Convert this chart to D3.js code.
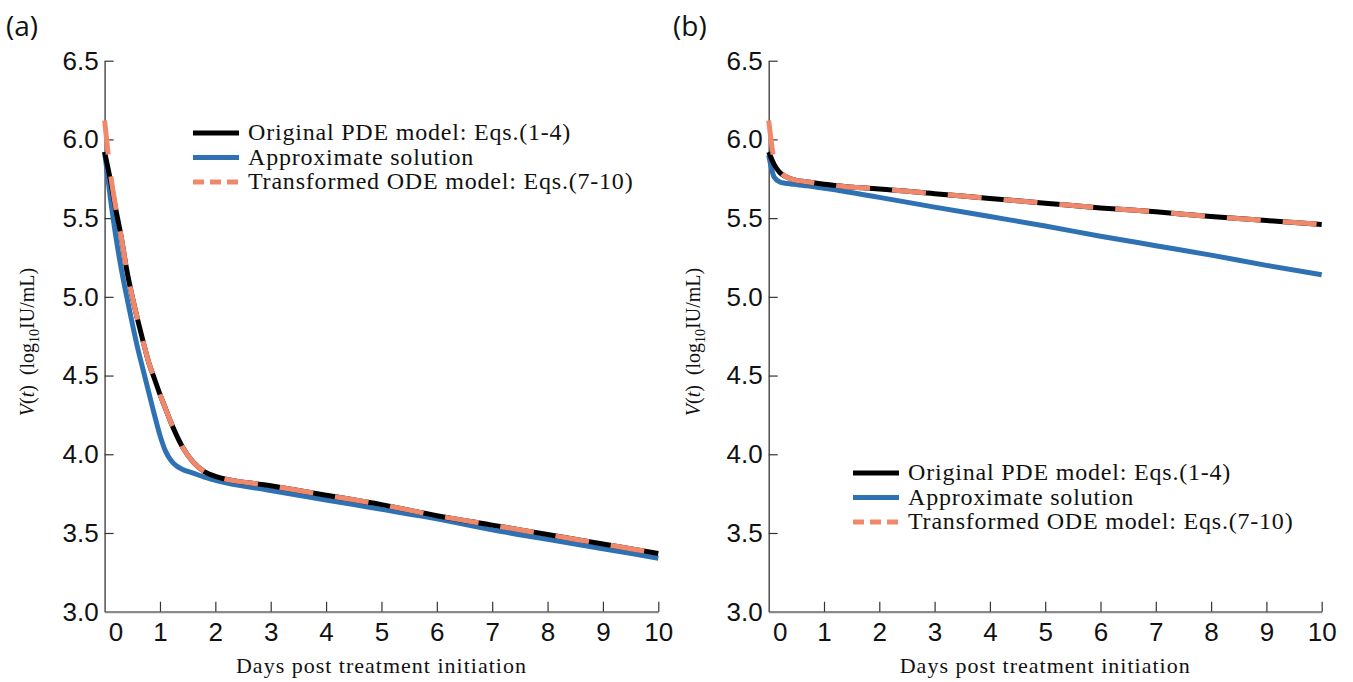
<!DOCTYPE html>
<html>
<head>
<meta charset="utf-8">
<script src="https://cdn.jsdelivr.net/npm/d3@7"></script>
<style>
  body { margin: 0; background: #fff; }
  text { fill: #111; }
</style>
</head>
<body>
<svg id="chart" width="1353" height="682"></svg>
<script>
// time grid (days) shared by both panels
const tDays = [0, 0.1, 0.2, 0.3, 0.4, 0.5, 0.6, 0.7, 0.8, 0.9, 1.0, 1.1, 1.2, 1.3, 1.4, 1.6, 1.8, 2, 3, 4, 5, 6, 7, 8, 9, 10];

// panel (a)
const pdeA    = [5.92, 5.75, 5.56, 5.38, 5.17, 5.00, 4.85, 4.71, 4.58, 4.48, 4.38, 4.29, 4.20, 4.12, 4.05, 3.95, 3.89, 3.86, 3.80, 3.74, 3.68, 3.61, 3.55, 3.49, 3.43, 3.37];
const approxA = [5.92, 5.64, 5.39, 5.18, 5.00, 4.83, 4.67, 4.53, 4.39, 4.25, 4.12, 4.02, 3.96, 3.925, 3.905, 3.88, 3.855, 3.835, 3.77, 3.71, 3.65, 3.59, 3.52, 3.46, 3.40, 3.34];
const odeA    = [6.12, 5.80, 5.57, 5.38, 5.17, 5.00, 4.85, 4.71, 4.58, 4.48, 4.38, 4.29, 4.20, 4.12, 4.05, 3.95, 3.89, 3.86, 3.80, 3.74, 3.68, 3.61, 3.55, 3.49, 3.43, 3.37];

// panel (b)
const pdeB    = [5.92, 5.84, 5.79, 5.765, 5.75, 5.74, 5.735, 5.73, 5.725, 5.72, 5.715, 5.712, 5.708, 5.704, 5.70, 5.695, 5.69, 5.685, 5.655, 5.625, 5.595, 5.565, 5.54, 5.51, 5.485, 5.46];
const approxB = [5.90, 5.76, 5.73, 5.722, 5.717, 5.713, 5.709, 5.705, 5.70, 5.695, 5.69, 5.685, 5.68, 5.674, 5.668, 5.656, 5.644, 5.632, 5.57, 5.51, 5.45, 5.385, 5.325, 5.265, 5.20, 5.14];
const odeB    = [6.12, 5.87, 5.80, 5.765, 5.75, 5.74, 5.735, 5.73, 5.725, 5.72, 5.715, 5.712, 5.708, 5.704, 5.70, 5.695, 5.69, 5.685, 5.655, 5.625, 5.595, 5.565, 5.54, 5.51, 5.485, 5.46];

const xTicks = [0, 1, 2, 3, 4, 5, 6, 7, 8, 9, 10];
const yTicks = [3.0, 3.5, 4.0, 4.5, 5.0, 5.5, 6.0, 6.5];
const legendLabels = ["Original PDE model: Eqs.(1-4)", "Approximate solution", "Transformed ODE model: Eqs.(7-10)"];
const xTitle = "Days post treatment initiation";

const colBlack = "#000000", colBlue = "#2f72b4", colSalmon = "#f0896c";
const serif = "'Liberation Serif', 'Times New Roman', serif";
const sans = "'Liberation Sans', Arial, sans-serif";

const svg = d3.select("#chart");

// each panel: plot box + legend spot
const panels = [
  {tag: "(a)", tagX: 6, left: 104.6, right: 658.3, pde: pdeA, approx: approxA, ode: odeA,
   legX: 193, legY: 133, yLabX: 34},
  {tag: "(b)", tagX: 673, left: 768.7, right: 1321.7, pde: pdeB, approx: approxB, ode: odeB,
   legX: 853, legY: 473, yLabX: 700}
];
const plotTop = 60.7, plotBottom = 611.7;

panels.forEach(function(p) {
  const x = d3.scaleLinear().domain([0, 10]).range([p.left, p.right]);
  const y = d3.scaleLinear().domain([3.0, 6.5]).range([plotBottom, plotTop]);
  const g = svg.append("g");

  // panel tag
  g.append("text")
    .attr("x", p.tagX).attr("y", 36)
    .style("font-family", "'Open Sans', 'Noto Sans', sans-serif")
    .style("font-size", "28px")
    .text(p.tag);

  // x axis
  const xa = g.append("g")
    .attr("transform", "translate(0," + plotBottom + ")")
    .call(d3.axisBottom(x).tickValues(xTicks).tickFormat(d3.format("d"))
      .tickSizeInner(-10).tickSizeOuter(0).tickPadding(11));
  xa.select(".domain").attr("stroke", "#8a8a8a").attr("stroke-width", 2.2);
  xa.selectAll(".tick line").attr("stroke", "#333").attr("stroke-width", 1.2);
  xa.selectAll(".tick text").style("font-family", sans).style("font-size", "26px").attr("fill", "#111");
  xa.selectAll(".tick").filter(function(d) { return d === 0; })
    .call(function(t) {
      t.select("line").remove();
      t.select("text").attr("dx", 11);
    });

  // y axis
  const ya = g.append("g")
    .attr("transform", "translate(" + p.left + ",0)")
    .call(d3.axisLeft(y).tickValues(yTicks).tickFormat(d3.format(".1f"))
      .tickSizeInner(-9).tickSizeOuter(0).tickPadding(6));
  ya.select(".domain").attr("stroke", "#444").attr("stroke-width", 1.4);
  ya.selectAll(".tick line").attr("stroke", "#333").attr("stroke-width", 1.2);
  ya.selectAll(".tick text").style("font-family", sans).style("font-size", "26px").attr("fill", "#111");
  ya.selectAll(".tick").filter(function(d) { return d === 3.0; }).select("line").remove();

  // axis titles
  g.append("text")
    .attr("x", (p.left + p.right) / 2).attr("y", 673)
    .attr("text-anchor", "middle")
    .style("font-family", serif).style("font-size", "22px").style("letter-spacing", "1px")
    .text(xTitle);

  const yl = g.append("text")
    .attr("transform", "translate(" + p.yLabX + ",342) rotate(-90)")
    .attr("text-anchor", "middle")
    .style("font-family", serif).style("font-size", "20px");
  yl.append("tspan").style("font-style", "italic").text("V");
  yl.append("tspan").text("(");
  yl.append("tspan").style("font-style", "italic").text("t");
  yl.append("tspan").text(")\u2002(log");
  yl.append("tspan").attr("dy", 5).style("font-size", "14px").text("10");
  yl.append("tspan").attr("dy", -5).text("IU/mL)");

  // curves
  const line = d3.line()
    .x(function(d) { return x(d[0]); })
    .y(function(d) { return y(d[1]); })
    .curve(d3.curveMonotoneX);
  const pts = function(vals) { return tDays.map(function(t, i) { return [t, vals[i]]; }); };

  g.append("path").attr("d", line(pts(p.approx)))
    .attr("fill", "none").attr("stroke", colBlue).attr("stroke-width", 5);
  g.append("path").attr("d", line(pts(p.pde)))
    .attr("fill", "none").attr("stroke", colBlack).attr("stroke-width", 5);
  g.append("path").attr("d", line(pts(p.ode)))
    .attr("fill", "none").attr("stroke", colSalmon).attr("stroke-width", 5)
    .attr("stroke-dasharray", "34,22");

  // legend
  const leg = g.append("g").attr("transform", "translate(" + p.legX + "," + p.legY + ")");
  const legStyles = [
    {c: colBlack, dash: null},
    {c: colBlue, dash: null},
    {c: colSalmon, dash: "11,6"}
  ];
  legendLabels.forEach(function(lab, i) {
    const row = leg.append("g").attr("transform", "translate(0," + (i * 24.5) + ")");
    row.append("line").attr("x1", 0).attr("x2", 46).attr("y1", 0).attr("y2", 0)
      .attr("stroke", legStyles[i].c).attr("stroke-width", 5)
      .attr("stroke-dasharray", legStyles[i].dash);
    row.append("text").attr("x", 55).attr("y", 7)
      .style("font-family", serif).style("font-size", "24px").style("letter-spacing", "0.8px")
      .text(lab);
  });
});
</script>
</body>
</html>
